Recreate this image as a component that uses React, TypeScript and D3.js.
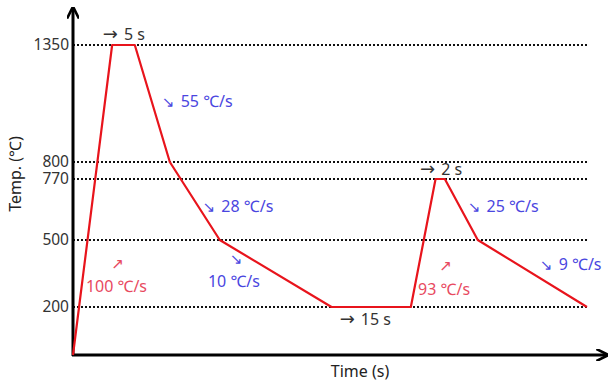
import React from 'react';
import * as d3 from 'd3';

// heat-treatment cycle, schematic time axis
const times = [0, 7.6, 12, 18.8, 28.5, 50.2, 65.6, 70.4, 72.2, 78.6, 99.8];
const temps = [0, 1350, 1350, 800, 500, 200, 200, 770, 770, 500, 200];

// labelled temperatures on the y axis
const tempTicks = [1350, 800, 770, 500, 200];

// notes: arrow, text, time, temp, colour
const noteArrow = ['→', '↘', '↘', '↘', '', '↗', '', '→', '→', '↘', '↘', '↗', ''];
const noteText = ['5 s', '55 ℃/s', '28 ℃/s', '', '10 ℃/s', '', '100 ℃/s', '15 s', '2 s', '25 ℃/s', '9 ℃/s', '', '93 ℃/s'];
const noteTime = [5.8, 17.3, 25.2, 31.7, 26.2, 8.7, 2.5, 51.8, 67.4, 76.7, 90.7, 72.4, 67];
const noteTemp = [1373, 1059, 624, 392, 290, 372, 267, 125, 777, 624, 366, 362, 254];
const noteKind = ['dark', 'blue', 'blue', 'blue', 'blue', 'red', 'red', 'dark', 'dark', 'blue', 'blue', 'red', 'red'];

const W = 610;
const H = 383;
const font = "'Noto Sans', sans-serif";
const arrowFont = "'DejaVu Sans', sans-serif";
const colors: Record<string, string> = { dark: '#333', blue: '#4a46e0', red: '#e84a5f' };

export default function App() {
  const x = d3.scaleLinear().domain([0, 100]).range([73, 588]);
  // the original axis is not to scale, so use a piecewise scale
  const y = d3.scaleLinear().domain([0, 200, 500, 770, 800, 1350]).range([355, 307, 240, 179, 162, 45]);

  const line = d3.line<number>().x((_, i) => x(times[i])).y((d) => y(d));
  const x0 = x(0);
  const y0 = y(0);

  return (
    <svg width={W} height={H} style={{ position: 'absolute', left: 0, top: 0, background: '#fff' }}>
      <defs>
        <marker id="arr" viewBox="0 0 10 10" refX="8" refY="5" markerWidth="4" markerHeight="4" orient="auto">
          <path d="M0,0 L10,5 L0,10" fill="none" stroke="#000" strokeWidth="2.2" />
        </marker>
      </defs>

      {/* dotted reference lines */}
      {tempTicks.map((t) => (
        <g key={t}>
          <line x1={x0} x2={x(100)} y1={y(t)} y2={y(t)} stroke="#111" strokeWidth={2.2} strokeDasharray="2 2" />
          <text x={x0 - 4} y={y(t)} dy="0.35em" textAnchor="end" fontFamily={font} fontSize={15.5} fill="#333">{t}</text>
        </g>
      ))}

      {/* axes */}
      <line x1={x0} x2={x0} y1={y0 + 1} y2={9} stroke="#000" strokeWidth={3} markerEnd="url(#arr)" />
      <line x1={x0 - 1} x2={606} y1={y0} y2={y0} stroke="#000" strokeWidth={3} markerEnd="url(#arr)" />

      <path d={line(temps) || ''} fill="none" stroke="#e8141c" strokeWidth={2.2} strokeLinejoin="round" />

      {noteText.map((s, i) => (
        <text key={i} x={x(noteTime[i])} y={y(noteTemp[i])} fontFamily={font} fontSize={16}
          textAnchor={s === '' ? 'middle' : 'start'} fill={colors[noteKind[i]]}>
          {noteArrow[i] && (
            <tspan fontFamily={arrowFont} fontSize={noteArrow[i] === '→' ? 18 : 15}>{noteArrow[i]}</tspan>
          )}
          {noteArrow[i] && s ? <tspan dx={6}>{s}</tspan> : s}
        </text>
      ))}

      <text x={360} y={377} textAnchor="middle" fontFamily={font} fontSize={16} fill="#222">Time (s)</text>
      <text transform={`translate(21,174) rotate(-90)`} textAnchor="middle" fontFamily={font} fontSize={16} fill="#222">Temp. (℃)</text>
    </svg>
  );
}
